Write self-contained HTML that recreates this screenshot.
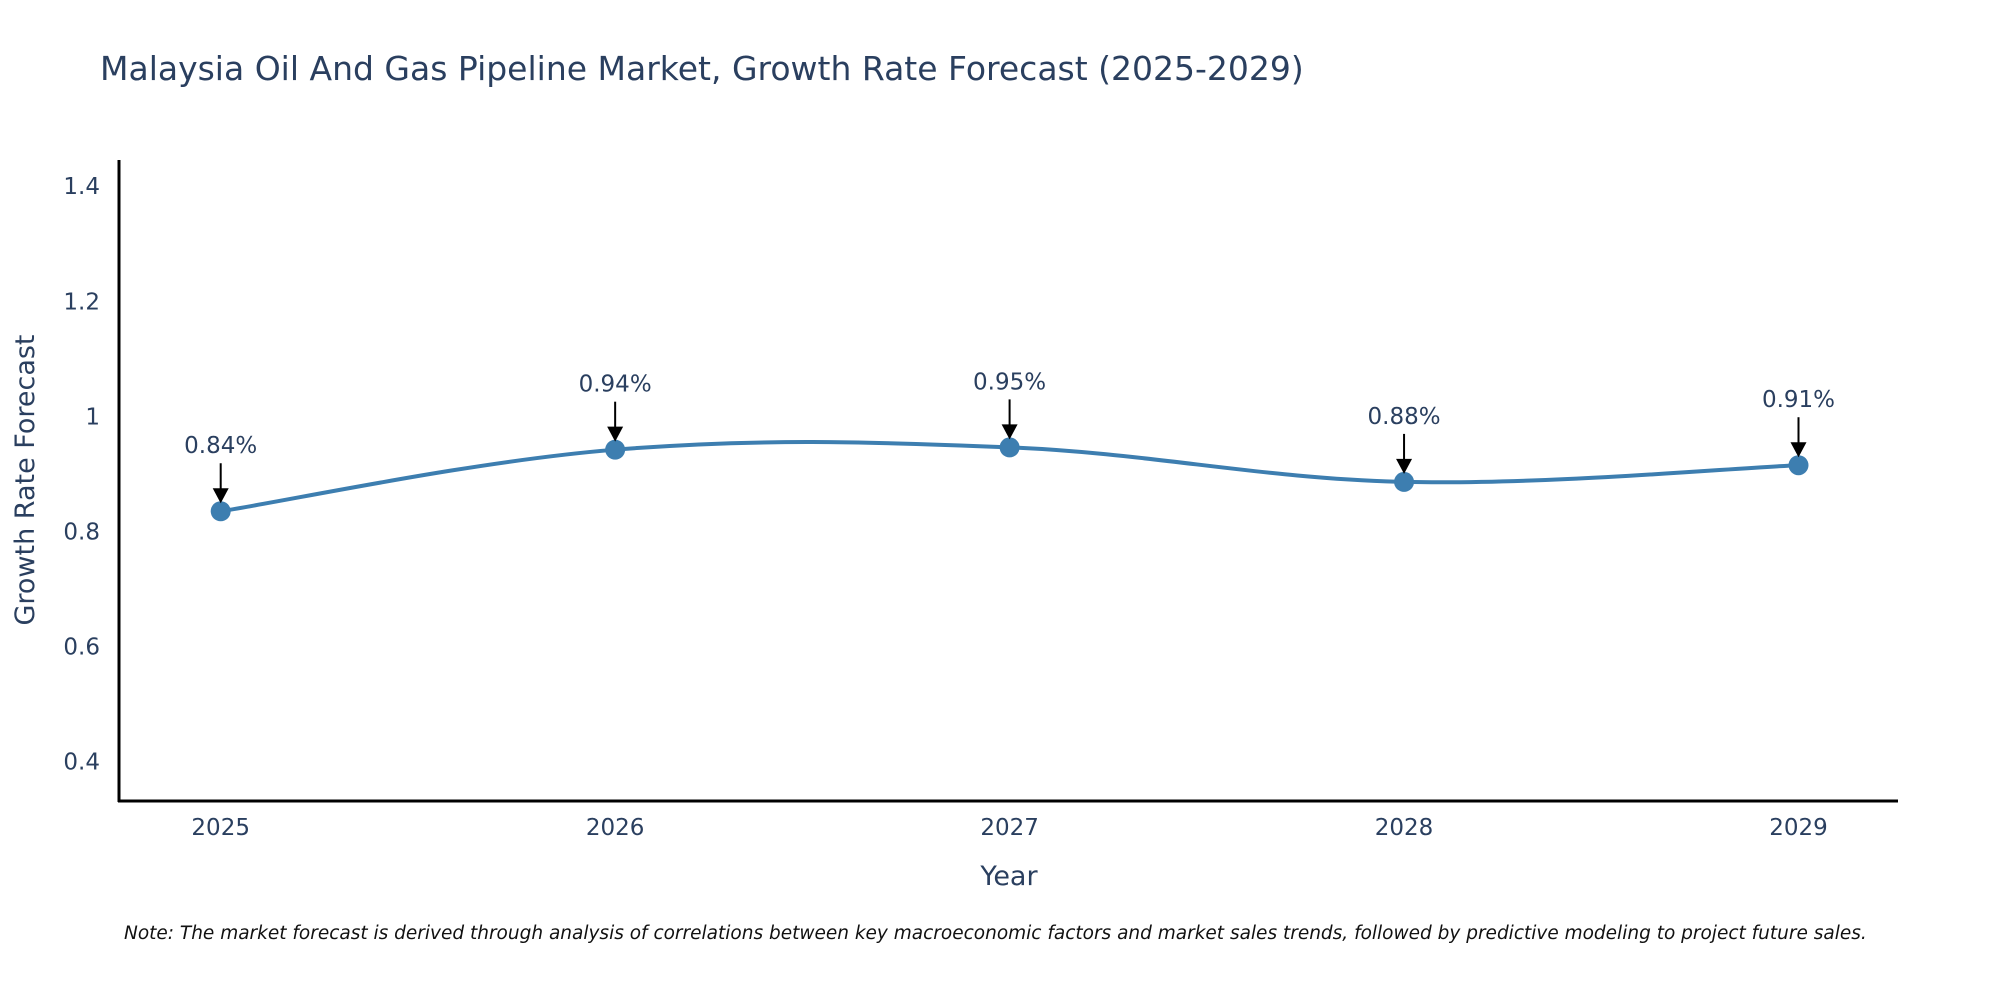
<!DOCTYPE html>
<html><head><meta charset="utf-8"><style>
html,body{margin:0;padding:0;background:#fff;width:2000px;height:1000px;overflow:hidden}
svg text{font-family:"DejaVu Sans","Liberation Sans",sans-serif;fill:#2a3f5f}
</style></head><body>
<svg width="2000" height="1000" xmlns="http://www.w3.org/2000/svg">
<text x="100" y="80" font-size="33">Malaysia Oil And Gas Pipeline Market, Growth Rate Forecast (2025-2029)</text>
<g id="yticks"></g>
<g id="xticks"></g>
<line x1="119" y1="160" x2="119" y2="802" stroke="#000" stroke-width="3"/>
<line x1="118" y1="801" x2="1898" y2="801" stroke="#000" stroke-width="3"/>
<text transform="translate(34,480) rotate(-90)" text-anchor="middle" font-size="27">Growth Rate Forecast</text>
<text x="1009" y="885" text-anchor="middle" font-size="27">Year</text>
<path id="line" fill="none" stroke="#3d7eb0" stroke-width="4"/>
<g id="points"></g>
<g id="annots"></g>
<text x="124" y="939" font-size="18.5" font-style="italic" style="fill:#111">Note: The market forecast is derived through analysis of correlations between key macroeconomic factors and market sales trends, followed by predictive modeling to project future sales.</text>
</svg>
<script>
const years = ["2025","2026","2027","2028","2029"];
const values = [0.835, 0.942, 0.946, 0.886, 0.915];
const labels = ["0.84%","0.94%","0.95%","0.88%","0.91%"];
const yTicks = [0.4,0.6,0.8,1,1.2,1.4];
const yTickLabels = ["0.4","0.6","0.8","1","1.2","1.4"];

const NS="http://www.w3.org/2000/svg";
function xs(i){return 220.7+i*394.45;}
function ys(v){return 761.5-(v-0.4)*575.3;}
function mk(tag,attrs,parent){const e=document.createElementNS(NS,tag);for(const k in attrs)e.setAttribute(k,attrs[k]);parent.appendChild(e);return e;}

const yg=document.getElementById('yticks');
yTicks.forEach((t,i)=>{
  const e=mk('text',{x:100,y:ys(t)+8,'text-anchor':'end','font-size':23},yg);
  e.textContent=yTickLabels[i];
  
  
});
const xg=document.getElementById('xticks');
years.forEach((y,i)=>{
  const e=mk('text',{x:xs(i),y:835,'text-anchor':'middle','font-size':23},xg);
  e.textContent=y;
  
  
});

const P=values.map((v,i)=>[xs(i),ys(v)]);
let d=`M${P[0][0]},${P[0][1]}`;
const tt=0.18;
for(let i=0;i<P.length-1;i++){
  const p0=P[Math.max(0,i-1)],p1=P[i],p2=P[i+1],p3=P[Math.min(P.length-1,i+2)];
  const c1=[p1[0]+(p2[0]-p0[0])*tt,p1[1]+(p2[1]-p0[1])*tt];
  const c2=[p2[0]-(p3[0]-p1[0])*tt,p2[1]-(p3[1]-p1[1])*tt];
  d+=` C${c1[0]},${c1[1]} ${c2[0]},${c2[1]} ${p2[0]},${p2[1]}`;
}
document.getElementById('line').setAttribute('d',d);

const pg=document.getElementById('points'),ag=document.getElementById('annots');
P.forEach((p,i)=>{
  const c=mk('circle',{cx:p[0],cy:p[1],r:10,fill:'#3d7eb0'},pg);
  
  
  const l=mk('line',{x1:p[0],y1:p[1]-48,x2:p[0],y2:p[1]-20,stroke:'#000','stroke-width':2},ag);
  
  
  const h=mk('polygon',{points:`${p[0]-8},${p[1]-23} ${p[0]+8},${p[1]-23} ${p[0]},${p[1]-8}`,fill:'#000'},ag);
  
  
  const t=mk('text',{x:p[0],y:p[1]-58,'text-anchor':'middle','font-size':23},ag);
  t.textContent=labels[i];
  
  
});
</script>
</body></html>
